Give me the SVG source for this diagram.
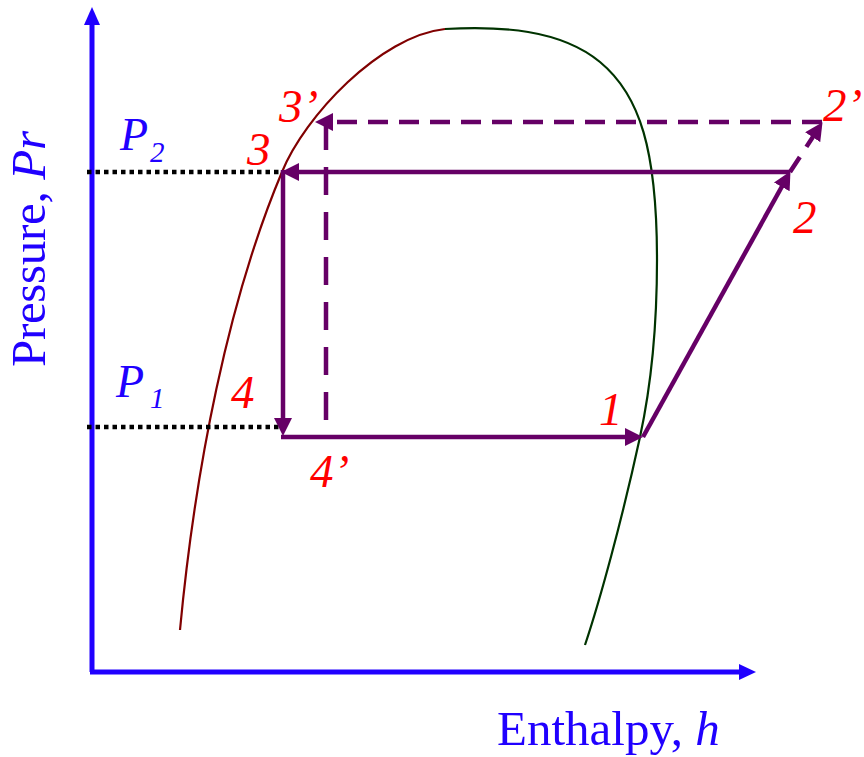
<svg xmlns="http://www.w3.org/2000/svg" width="864" height="757" viewBox="0 0 864 757">
<style>
.axis{stroke:#2000ff;stroke-width:5;fill:none}
.axhead{fill:#2000ff}
.dot{stroke:#000;stroke-width:4.5;stroke-dasharray:4.5 4;fill:none}
.cyc{stroke:#660066;stroke-width:4.5;fill:none}
.dash{stroke-dasharray:20 11}
.lbl{font-family:"Liberation Serif","Times New Roman",serif;font-style:italic;font-size:47px;fill:#ff0000}
.blue{font-family:"Liberation Serif","Times New Roman",serif;font-size:49px;fill:#2000ff}
.pl{font-family:"Liberation Serif","Times New Roman",serif;font-style:italic;font-size:46px;fill:#2000ff}
.sub{font-size:29px}
</style>
<defs>
<marker id="arr" markerUnits="userSpaceOnUse" markerWidth="18" markerHeight="18" refX="8" refY="8" orient="auto" viewBox="0 0 16 16">
<path d="M0,0 L16,8 L0,16 z" fill="#660066"/>
</marker>
</defs>
<g id="axes">
<line class="axis" x1="92" y1="672" x2="92" y2="22"/>
<polygon class="axhead" points="92,7 84,25 100,25"/>
<line class="axis" x1="90" y1="672" x2="742" y2="672"/>
<polygon class="axhead" points="756,672 739,664 739,680"/>
<text class="blue" transform="rotate(-90 45 367)" x="45" y="367" textLength="236" lengthAdjust="spacing">Pressure, <tspan font-style="italic">Pr</tspan></text>
<text class="blue" x="497" y="745">Enthalpy, <tspan font-style="italic">h</tspan></text>
</g>
<g id="saturation-dome">
<path d="M180,630 C195,470 228,300 282,172 C304.6,116.4 380,36 445,29" stroke="#800000" stroke-width="2.2" fill="none"/>
<path d="M445,29 C500,26 560,29 600,62 C640,95 657,150 657,260 C657,340 648,400 640,437 C622,520 600,600 585,645" stroke="#003300" stroke-width="2.2" fill="none"/>
</g>
<g id="pressure-levels">
<line class="dot" x1="87" y1="172" x2="282" y2="172"/>
<line class="dot" x1="87" y1="427" x2="280" y2="427"/>
<text class="pl" x="120" y="150">P<tspan class="sub" x="150" y="162">2</tspan></text>
<text class="pl" x="116" y="397">P<tspan class="sub" x="150" y="408">1</tspan></text>
</g>
<g id="connectors">
<line class="cyc" x1="790" y1="172" x2="290" y2="172" marker-end="url(#arr)"/>
<line class="cyc" x1="283" y1="170" x2="283" y2="427" marker-end="url(#arr)"/>
<line class="cyc" x1="281" y1="437" x2="634" y2="437" marker-end="url(#arr)"/>
<line class="cyc" x1="643" y1="437" x2="786.1" y2="179" marker-end="url(#arr)"/>
<line class="cyc" x1="790" y1="172" x2="817.6" y2="129.7" stroke-dasharray="18 12 40" marker-end="url(#arr)"/>
<line class="cyc dash" x1="822" y1="122" x2="324" y2="122" marker-end="url(#arr)"/>
<line class="cyc" x1="326" y1="122" x2="326" y2="437" stroke-dasharray="28 17"/>
</g>
<g id="state-labels">
<text class="lbl" x="279" y="122">3’</text>
<text class="lbl" x="247" y="165">3</text>
<text class="lbl" x="823" y="121">2’</text>
<text class="lbl" x="793" y="233">2</text>
<text class="lbl" x="231" y="408">4</text>
<text class="lbl" x="310" y="487">4’</text>
<text class="lbl" x="599" y="425">1</text>
</g>
</svg>
